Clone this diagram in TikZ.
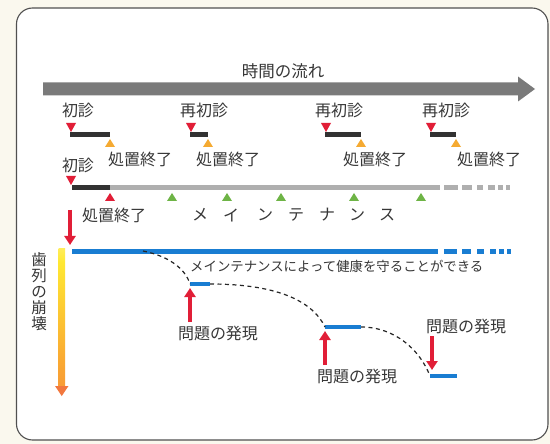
\documentclass[tikz,border=0pt]{standalone}
\usepackage{fontspec}
\setmainfont{Noto Sans CJK JP}
\usetikzlibrary{arrows.meta}
\definecolor{bgcream}{RGB}{250,248,238}
\definecolor{framec}{RGB}{80,80,80}
\definecolor{arrowgray}{RGB}{122,122,122}
\definecolor{barblack}{RGB}{50,50,50}
\definecolor{bargray}{RGB}{175,175,175}
\definecolor{tred}{RGB}{225,30,55}
\definecolor{torange}{RGB}{245,170,50}
\definecolor{tgreen}{RGB}{110,180,70}
\definecolor{tblue}{RGB}{25,125,210}
\definecolor{txt}{RGB}{55,55,55}
\definecolor{gtop}{RGB}{255,253,235}
\definecolor{gmid}{RGB}{255,232,50}
\definecolor{gora}{RGB}{250,170,50}
\definecolor{gbot}{RGB}{242,120,62}
\pgfdeclareverticalshading{collapseshade}{100bp}{color(0bp)=(gbot); color(35bp)=(gora); color(70bp)=(gmid); color(92bp)=(gtop); color(100bp)=(gtop)}
\tikzset{
  lbl/.style={font=\fontsize{16}{16}\selectfont, text=txt, inner sep=0pt},
  smalllbl/.style={font=\fontsize{13.4}{13.4}\selectfont, text=txt, inner sep=0pt},
  blackbar/.style={draw=barblack, line width=5pt},
  graybar/.style={draw=bargray, line width=5pt},
  bluebar/.style={draw=tblue, line width=5pt},
  curvedash/.style={draw=black!85, line width=1.2pt, dash pattern=on 4pt off 3.5pt},
  redarrow/.style={draw=tred, line width=3.5pt, -{Triangle[width=11pt,length=9pt]}},
}
\newcommand{\tridown}[3]{\fill[#3] (#1-5,#2-9) -- (#1+5,#2-9) -- (#1,#2) -- cycle;}
\newcommand{\triup}[3]{\fill[#3] (#1-5,#2+8) -- (#1+5,#2+8) -- (#1,#2) -- cycle;}
\begin{document}
\begin{tikzpicture}[x=1pt,y=-1pt]
\useasboundingbox (0,0) rectangle (550,444);
\fill[bgcream] (0,0) rectangle (550,444);
\draw[framec, line width=1.1pt, fill=white, rounded corners=16pt] (16.5,8) rectangle (548,440);

% time arrow
\fill[arrowgray] (43,82.5) -- (518,82.5) -- (518,76.5) -- (535,89) -- (518,101.5) -- (518,95.5) -- (43,95.5) -- cycle;
\node[lbl, font=\fontsize{16.5}{16.5}\selectfont] (title) at (283,71) {時間の流れ};

% row 1
\node[lbl] (sh1) at (78,110) {初診};
\coordinate (b1s) at (70,135); \coordinate (b1e) at (110,135);
\draw[blackbar] (b1s) -- (b1e);
\tridown{71}{132}{tred}
\triup{110}{139}{torange}
\node[lbl] (e1) at (140,159) {処置終了};

\node[lbl] (r1) at (204,110) {再初診};
\coordinate (b2s) at (190,135); \coordinate (b2e) at (208,135);
\draw[blackbar] (b2s) -- (b2e);
\tridown{191}{132}{tred}
\triup{208}{139}{torange}
\node[lbl] (e2) at (228,159) {処置終了};

\node[lbl] (r2) at (339,110) {再初診};
\coordinate (b3s) at (325,135); \coordinate (b3e) at (361,135);
\draw[blackbar] (b3s) -- (b3e);
\tridown{326}{132}{tred}
\triup{361}{139}{torange}
\node[lbl] (e3) at (375,159) {処置終了};

\node[lbl] (r3) at (446,110) {再初診};
\coordinate (b4s) at (430,135); \coordinate (b4e) at (456,135);
\draw[blackbar] (b4s) -- (b4e);
\tridown{431}{132}{tred}
\triup{456}{139}{torange}
\node[lbl] (e4) at (489,159) {処置終了};

% row 2
\node[lbl] (sh2) at (78,165) {初診};
\coordinate (m0) at (72,188); \coordinate (m1) at (110,188); \coordinate (m2) at (440,188);
\draw[graybar] (m1) -- (m2);
\draw[blackbar] (m0) -- (m1);
\foreach \a/\b in {444/458,462/472,477/483,488/495,498/503,506/510}
  \draw[bargray, line width=5pt] (\a,188) -- (\b,188);
\tridown{71}{185}{tred}
\triup{110}{193}{tred}
\foreach \x in {172,227,281,354,421} {\triup{\x}{193}{tgreen}}
\node[lbl] at (200,215) {メ};
\node[lbl] at (231,215) {イ};
\node[lbl] at (265,215) {ン};
\node[lbl] at (296,215) {テ};
\node[lbl] at (327,215) {ナ};
\node[lbl] at (357,215) {ン};
\node[lbl] at (387,215) {ス};

% collapse arrow
\coordinate (ra1) at (70,210); \coordinate (ra2) at (70,245);
\draw[redarrow] (ra1) -- (ra2);

% blue line
\coordinate (bl0) at (72,251); \coordinate (bl1) at (438,251);
\draw[bluebar] (bl0) -- (bl1);
\foreach \a/\b in {444/457,462/471,477/484,490/496,499/504,507/511}
  \draw[tblue, line width=5pt] (\a,251) -- (\b,251);

% gradient arrow
\shade[shading=collapseshade] (58.5,248) rectangle (65,387);
\fill[gbot] (55,386) -- (68.5,386) -- (61.75,396) -- cycle;
\node[lbl, font=\fontsize{15.5}{16}\selectfont, align=center] (vt) at (39,292) {歯\\列\\の\\崩\\壊};

% drops
\coordinate (p1s) at (190,284); \coordinate (p1e) at (210,284);
\coordinate (p2s) at (325,327); \coordinate (p2e) at (361,327);
\coordinate (p3s) at (430,376); \coordinate (p3e) at (457,376);
\draw[tblue, line width=4pt] (p1s) -- (p1e);
\draw[tblue, line width=4pt] (p2s) -- (p2e);
\draw[tblue, line width=4pt] (p3s) -- (p3e);
\draw[curvedash] (143,251) .. controls (168,256) and (185,268) .. (p1s);
\draw[curvedash] (p1e) .. controls (275,284) and (312,300) .. (p2s);
\draw[curvedash] (p2e) .. controls (395,327) and (420,350) .. (p3s);

\node[smalllbl, anchor=west] (mt) at (190,266) {メインテナンスによって健康を守ることができる};

% problem arrows
\coordinate (a1b) at (190,322); \coordinate (a1t) at (190,288);
\draw[redarrow] (a1b) -- (a1t);
\node[lbl] (q1) at (218,333) {問題の発現};
\coordinate (a2b) at (325,365); \coordinate (a2t) at (325,331);
\draw[redarrow] (a2b) -- (a2t);
\node[lbl] (q2) at (357,376) {問題の発現};
\coordinate (a3t) at (432,336); \coordinate (a3b) at (432,370);
\draw[redarrow] (a3t) -- (a3b);
\node[lbl] (q3) at (466,326) {問題の発現};

\node[lbl] (e5) at (114,215) {処置終了};
\end{tikzpicture}
\end{document}
